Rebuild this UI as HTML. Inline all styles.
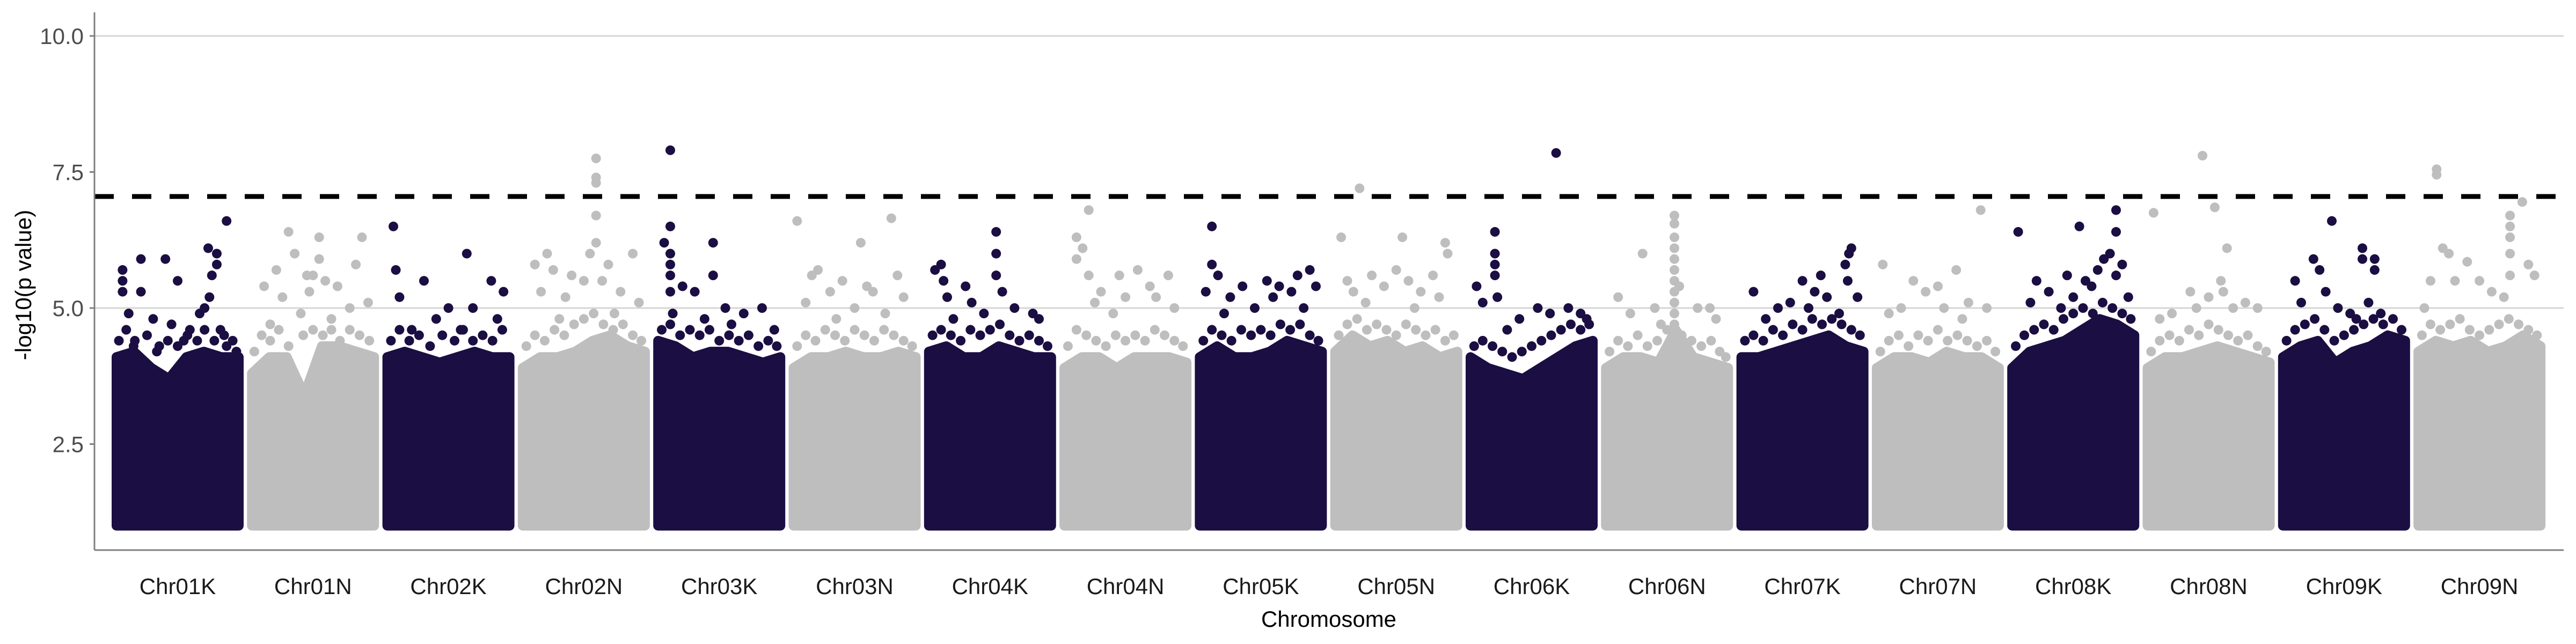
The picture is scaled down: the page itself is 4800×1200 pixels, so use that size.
<!DOCTYPE html>
<html><head><meta charset="utf-8">
<style>
html,body{margin:0;padding:0;background:#fff;}
svg{display:block;font-family:"Liberation Sans",Arial,sans-serif;}
</style></head>
<body>
<svg id="chart" width="4800" height="1200" viewBox="0 0 4800 1200" xmlns="http://www.w3.org/2000/svg">
  <rect x="0" y="0" width="4800" height="1200" fill="#ffffff"/>
  <g id="grid"></g>
  <g id="marks"></g>
  <g id="thresh"></g>
  <g id="axes"></g>
  <text x="2476" y="1168" font-size="42" text-anchor="middle" fill="#000">Chromosome</text>
  <text transform="translate(58,531) rotate(-90)" font-size="42" text-anchor="middle" fill="#000">-log10(p value)</text>
</svg>
<script>
const categories = ["Chr01K","Chr01N","Chr02K","Chr02N","Chr03K","Chr03N","Chr04K","Chr04N","Chr05K","Chr05N","Chr06K","Chr06N","Chr07K","Chr07N","Chr08K","Chr08N","Chr09K","Chr09N"];
const yTicks = [2.5, 5.0, 7.5, 10.0];
const yTickLabels = ["2.5","5.0","7.5","10.0"];
const gridValues = [5.0, 10.0];
const threshold = 7.05;
const minValue = 1.0;
// dense-cloud upper envelope per chromosome (evenly spaced along chromosome)
const envelopes = [
 [4.1,4.2,3.9,3.7,4.1,4.2,4.1,4.1],
 [3.8,4.1,4.1,3.4,4.3,4.3,4.2,4.1],
 [4.1,4.2,4.1,4.0,4.1,4.2,4.1,4.1],
 [3.9,4.1,4.1,4.2,4.4,4.5,4.3,4.2],
 [4.4,4.3,4.1,4.2,4.2,4.1,4.0,4.1],
 [3.9,4.1,4.1,4.2,4.1,4.1,4.2,4.1],
 [4.2,4.3,4.1,4.1,4.3,4.2,4.1,4.1],
 [3.9,4.1,4.1,3.9,4.1,4.1,4.1,4.0],
 [4.1,4.3,4.1,4.1,4.2,4.4,4.3,4.2],
 [4.2,4.5,4.3,4.4,4.2,4.3,4.1,4.2],
 [4.1,3.9,3.8,3.7,3.9,4.1,4.3,4.4],
 [3.9,4.1,4.1,4.0,4.6,4.1,4.0,3.9],
 [4.1,4.1,4.2,4.3,4.4,4.5,4.3,4.2],
 [3.9,4.1,4.1,4.0,4.2,4.1,4.1,3.9],
 [3.9,4.2,4.3,4.4,4.6,4.8,4.7,4.5],
 [3.9,4.1,4.1,4.2,4.3,4.2,4.1,4.0],
 [4.1,4.3,4.4,4.0,4.2,4.3,4.5,4.4],
 [4.2,4.4,4.3,4.4,4.2,4.3,4.5,4.3]
];
// individual SNPs above the cloud: [relative position, -log10 p]
const snps = [
 [[0.05,5.7],[0.05,5.5],[0.05,5.3],[0.2,5.9],[0.4,5.9],[0.5,5.5],[0.2,5.3],[0.1,4.9],[0.3,4.8],[0.45,4.7],[0.75,6.1],[0.82,6.0],[0.78,5.6],[0.82,5.8],[0.9,6.6],[0.72,5.0],[0.68,4.9],[0.76,5.2],[0.85,4.6],[0.6,4.6],[0.15,4.4],[0.35,4.3],[0.55,4.4],[0.9,4.3],[0.98,4.2]],
 [[0.3,6.4],[0.35,6.0],[0.55,6.3],[0.55,5.9],[0.2,5.7],[0.1,5.4],[0.5,5.6],[0.6,5.5],[0.7,5.4],[0.9,6.3],[0.85,5.8],[0.45,5.6],[0.47,5.3],[0.25,5.2],[0.4,4.9],[0.8,5.0],[0.15,4.7],[0.65,4.8],[0.95,5.1]],
 [[0.05,6.5],[0.07,5.7],[0.65,6.0],[0.3,5.5],[0.85,5.5],[0.1,5.2],[0.5,5.0],[0.4,4.8],[0.7,5.0],[0.2,4.6],[0.6,4.6],[0.9,4.8],[0.95,5.3]],
 [[0.6,7.75],[0.6,7.4],[0.6,7.3],[0.6,6.7],[0.6,6.2],[0.55,6.0],[0.1,5.8],[0.2,6.0],[0.25,5.7],[0.4,5.6],[0.5,5.5],[0.7,5.8],[0.9,6.0],[0.15,5.3],[0.35,5.2],[0.65,5.5],[0.8,5.3],[0.95,5.1],[0.3,4.8],[0.75,4.9]],
 [[0.1,7.9],[0.1,6.5],[0.05,6.2],[0.1,6.0],[0.1,5.8],[0.1,5.6],[0.1,5.3],[0.45,6.2],[0.45,5.6],[0.2,5.4],[0.3,5.3],[0.55,5.0],[0.7,4.9],[0.85,5.0],[0.12,4.9],[0.38,4.8],[0.6,4.7],[0.95,4.6]],
 [[0.03,6.6],[0.8,6.65],[0.55,6.2],[0.15,5.6],[0.2,5.7],[0.3,5.3],[0.4,5.5],[0.6,5.4],[0.65,5.3],[0.85,5.6],[0.9,5.2],[0.1,5.1],[0.5,5.0],[0.75,4.9],[0.35,4.8]],
 [[0.55,6.4],[0.55,6.0],[0.1,5.8],[0.12,5.5],[0.05,5.7],[0.15,5.2],[0.3,5.4],[0.35,5.1],[0.55,5.6],[0.6,5.3],[0.7,5.0],[0.85,4.9],[0.9,4.8],[0.2,4.8],[0.45,4.9]],
 [[0.2,6.8],[0.1,6.3],[0.15,6.1],[0.1,5.9],[0.2,5.6],[0.3,5.3],[0.25,5.1],[0.45,5.6],[0.5,5.2],[0.6,5.7],[0.7,5.4],[0.75,5.2],[0.85,5.6],[0.9,5.0],[0.4,4.9]],
 [[0.1,6.5],[0.1,5.8],[0.15,5.6],[0.05,5.3],[0.25,5.2],[0.35,5.4],[0.55,5.5],[0.6,5.2],[0.65,5.4],[0.75,5.3],[0.8,5.6],[0.9,5.7],[0.95,5.4],[0.45,5.0],[0.2,4.9],[0.85,5.0]],
 [[0.2,7.2],[0.05,6.3],[0.55,6.3],[0.9,6.2],[0.92,6.0],[0.1,5.5],[0.15,5.3],[0.3,5.6],[0.4,5.4],[0.5,5.7],[0.6,5.5],[0.7,5.3],[0.8,5.6],[0.85,5.2],[0.25,5.1],[0.65,5.0]],
 [[0.7,7.85],[0.2,6.4],[0.2,6.0],[0.2,5.8],[0.2,5.6],[0.05,5.4],[0.1,5.1],[0.22,5.2],[0.4,4.8],[0.55,5.0],[0.65,4.9],[0.8,5.0],[0.9,4.9],[0.95,4.8],[0.3,4.6]],
 [[0.56,6.7],[0.56,6.55],[0.56,6.3],[0.56,6.1],[0.56,5.9],[0.56,5.7],[0.56,5.5],[0.56,5.3],[0.56,5.1],[0.56,4.9],[0.56,4.7],[0.3,6.0],[0.6,5.4],[0.75,5.0],[0.1,5.2],[0.2,4.9],[0.4,5.0],[0.85,5.0],[0.9,4.8],[0.45,4.7]],
 [[0.9,6.1],[0.88,6.0],[0.85,5.8],[0.87,5.5],[0.65,5.6],[0.6,5.3],[0.5,5.5],[0.55,5.0],[0.1,5.3],[0.3,5.0],[0.4,5.1],[0.7,5.2],[0.95,5.2],[0.2,4.8],[0.8,4.9]],
 [[0.05,5.8],[0.65,5.7],[0.85,6.8],[0.3,5.5],[0.4,5.3],[0.5,5.4],[0.55,5.0],[0.2,5.0],[0.1,4.9],[0.75,5.1],[0.9,5.0],[0.7,4.8]],
 [[0.05,6.4],[0.55,6.5],[0.85,6.8],[0.85,6.4],[0.8,6.0],[0.75,5.9],[0.85,5.6],[0.9,5.8],[0.7,5.7],[0.65,5.4],[0.6,5.5],[0.5,5.2],[0.4,5.0],[0.3,5.3],[0.2,5.5],[0.15,5.1],[0.95,5.2],[0.45,5.6]],
 [[0.45,7.8],[0.05,6.75],[0.55,6.85],[0.65,6.1],[0.6,5.5],[0.62,5.3],[0.7,5.0],[0.35,5.3],[0.4,5.0],[0.2,4.9],[0.1,4.8],[0.8,5.1],[0.9,5.0],[0.5,5.2]],
 [[0.4,6.6],[0.65,6.1],[0.65,5.9],[0.75,5.9],[0.75,5.7],[0.25,5.9],[0.3,5.7],[0.1,5.5],[0.15,5.1],[0.35,5.3],[0.45,5.0],[0.55,4.9],[0.6,4.8],[0.7,5.1],[0.8,4.9]],
 [[0.15,7.55],[0.15,7.45],[0.85,6.95],[0.75,6.7],[0.75,6.5],[0.75,6.3],[0.2,6.1],[0.25,6.0],[0.4,5.85],[0.75,6.0],[0.9,5.8],[0.1,5.5],[0.3,5.5],[0.5,5.5],[0.6,5.3],[0.75,5.6],[0.7,5.2],[0.95,5.6],[0.05,5.0]]
];
// moderately associated SNPs just above the dense cloud
const bandSnps = [
 [[0.02,4.4],[0.08,4.6],[0.14,4.3],[0.25,4.5],[0.33,4.2],[0.42,4.4],[0.5,4.3],[0.58,4.5],[0.66,4.4],[0.72,4.6],[0.8,4.4],[0.88,4.5],[0.95,4.4]],
 [[0.02,4.2],[0.08,4.5],[0.15,4.4],[0.22,4.6],[0.3,4.3],[0.42,4.5],[0.5,4.6],[0.58,4.5],[0.65,4.6],[0.72,4.4],[0.8,4.6],[0.88,4.5],[0.96,4.4]],
 [[0.03,4.4],[0.1,4.6],[0.18,4.4],[0.26,4.5],[0.35,4.3],[0.45,4.5],[0.55,4.4],[0.62,4.6],[0.7,4.4],[0.78,4.5],[0.86,4.4],[0.94,4.6]],
 [[0.03,4.3],[0.1,4.5],[0.18,4.4],[0.26,4.6],[0.34,4.5],[0.42,4.7],[0.5,4.8],[0.58,4.9],[0.66,4.7],[0.74,4.6],[0.82,4.7],[0.9,4.5],[0.97,4.4]],
 [[0.03,4.6],[0.1,4.7],[0.18,4.5],[0.26,4.6],[0.34,4.5],[0.42,4.6],[0.5,4.4],[0.58,4.5],[0.66,4.4],[0.74,4.5],[0.82,4.3],[0.9,4.4],[0.97,4.3]],
 [[0.03,4.3],[0.1,4.5],[0.18,4.4],[0.26,4.6],[0.34,4.5],[0.42,4.4],[0.5,4.6],[0.58,4.5],[0.66,4.4],[0.74,4.6],[0.82,4.5],[0.9,4.4],[0.97,4.3]],
 [[0.03,4.5],[0.1,4.6],[0.18,4.5],[0.26,4.4],[0.34,4.6],[0.42,4.5],[0.5,4.6],[0.58,4.7],[0.66,4.5],[0.74,4.4],[0.82,4.5],[0.9,4.4],[0.97,4.3]],
 [[0.03,4.3],[0.1,4.6],[0.18,4.5],[0.26,4.4],[0.34,4.3],[0.42,4.5],[0.5,4.4],[0.58,4.5],[0.66,4.4],[0.74,4.6],[0.82,4.5],[0.9,4.4],[0.97,4.3]],
 [[0.03,4.4],[0.1,4.6],[0.18,4.5],[0.26,4.4],[0.34,4.6],[0.42,4.5],[0.5,4.6],[0.58,4.5],[0.66,4.7],[0.74,4.6],[0.82,4.7],[0.9,4.5],[0.97,4.4]],
 [[0.03,4.5],[0.1,4.7],[0.18,4.8],[0.26,4.6],[0.34,4.7],[0.42,4.6],[0.5,4.5],[0.58,4.7],[0.66,4.6],[0.74,4.5],[0.82,4.6],[0.9,4.4],[0.97,4.5]],
 [[0.03,4.3],[0.1,4.4],[0.18,4.3],[0.26,4.2],[0.34,4.1],[0.42,4.2],[0.5,4.3],[0.58,4.4],[0.66,4.5],[0.74,4.6],[0.82,4.7],[0.9,4.6],[0.97,4.7]],
 [[0.03,4.2],[0.1,4.4],[0.18,4.3],[0.26,4.5],[0.34,4.3],[0.42,4.4],[0.5,4.6],[0.62,4.5],[0.7,4.4],[0.78,4.3],[0.86,4.4],[0.93,4.2],[0.98,4.1]],
 [[0.03,4.4],[0.1,4.5],[0.18,4.4],[0.26,4.6],[0.34,4.5],[0.42,4.7],[0.5,4.6],[0.58,4.8],[0.66,4.7],[0.74,4.8],[0.82,4.7],[0.9,4.6],[0.97,4.5]],
 [[0.03,4.2],[0.1,4.4],[0.18,4.5],[0.26,4.3],[0.34,4.5],[0.42,4.4],[0.5,4.6],[0.58,4.4],[0.66,4.5],[0.74,4.4],[0.82,4.3],[0.9,4.4],[0.97,4.2]],
 [[0.03,4.3],[0.1,4.5],[0.18,4.6],[0.26,4.7],[0.34,4.6],[0.42,4.8],[0.5,4.9],[0.58,5.0],[0.66,4.9],[0.74,5.1],[0.82,5.0],[0.9,4.9],[0.97,4.8]],
 [[0.03,4.2],[0.1,4.4],[0.18,4.5],[0.26,4.4],[0.34,4.6],[0.42,4.5],[0.5,4.7],[0.58,4.6],[0.66,4.5],[0.74,4.4],[0.82,4.5],[0.9,4.3],[0.97,4.2]],
 [[0.03,4.4],[0.1,4.6],[0.18,4.7],[0.26,4.8],[0.34,4.6],[0.42,4.4],[0.5,4.5],[0.58,4.6],[0.66,4.7],[0.74,4.8],[0.82,4.7],[0.9,4.8],[0.97,4.6]],
 [[0.03,4.5],[0.1,4.7],[0.18,4.6],[0.26,4.7],[0.34,4.8],[0.42,4.6],[0.5,4.5],[0.58,4.6],[0.66,4.7],[0.74,4.8],[0.82,4.7],[0.9,4.6],[0.97,4.5]]
];
const colors = ["#1b0e42","#bebebe"];

const NS = "http://www.w3.org/2000/svg";
const plotL = 176, plotR = 4777, plotT = 23, plotB = 1025;
const chrStart = 208, chrStep = 252.3, R = 9, chrSpan = 246 - 2 * R;
function yScale(v){ return 67 + (10 - v) * 101.4; }
function chrX(i, pos){ return chrStart + R + i * chrStep + pos * chrSpan; }
function mk(tag, attrs, parent){
  const e = document.createElementNS(NS, tag);
  for (const k in attrs) e.setAttribute(k, attrs[k]);
  parent.appendChild(e);
  return e;
}
const grid = document.getElementById('grid');
const marks = document.getElementById('marks');
const thresh = document.getElementById('thresh');
const axes = document.getElementById('axes');

gridValues.forEach(v => {
  const l = mk('line', {x1: plotL, x2: plotR, y1: yScale(v), y2: yScale(v), stroke: '#d6d6d6', 'stroke-width': 3}, grid);
  
  
});

categories.forEach((c, i) => {
  const col = colors[i % 2];
  const g = mk('g', {}, marks);
  
  
  const env = envelopes[i];
  let d = 'M' + chrX(i, 0) + ',' + yScale(minValue);
  env.forEach((v, k) => { d += ' L' + chrX(i, k / (env.length - 1)) + ',' + yScale(v); });
  d += ' L' + chrX(i, 1) + ',' + yScale(minValue) + ' Z';
  const p = mk('path', {d: d, fill: col, stroke: col, 'stroke-width': 2 * R, 'stroke-linejoin': 'round'}, g);
  
  
  bandSnps[i].concat(snps[i]).forEach(s => {
    const ci = mk('circle', {cx: chrX(i, s[0]), cy: yScale(s[1]), r: R, fill: col}, g);
    
    
  });
  const t = mk('text', {x: chrX(i, 0.5), y: 1107, 'font-size': 42, 'text-anchor': 'middle', fill: '#1a1a1a'}, axes);
  t.textContent = c;
  
  
});

const th = mk('line', {x1: plotL, x2: plotR, y1: yScale(threshold), y2: yScale(threshold), stroke: '#000', 'stroke-width': 9, 'stroke-dasharray': '36 34'}, thresh);



const ya = mk('line', {x1: plotL, x2: plotL, y1: plotT, y2: plotB, stroke: '#808080', 'stroke-width': 3}, axes);


const xa = mk('line', {x1: plotL, x2: plotR, y1: plotB, y2: plotB, stroke: '#808080', 'stroke-width': 3}, axes);



yTicks.forEach((v, k) => {
  const tk = mk('line', {x1: plotL - 9, x2: plotL, y1: yScale(v), y2: yScale(v), stroke: '#808080', 'stroke-width': 3}, axes);
  
  
  const tl = mk('text', {x: plotL - 20, y: yScale(v) + 15, 'font-size': 42, 'text-anchor': 'end', fill: '#4d4d4d'}, axes);
  tl.textContent = yTickLabels[k];
  
  
});
</script>
</body></html>
